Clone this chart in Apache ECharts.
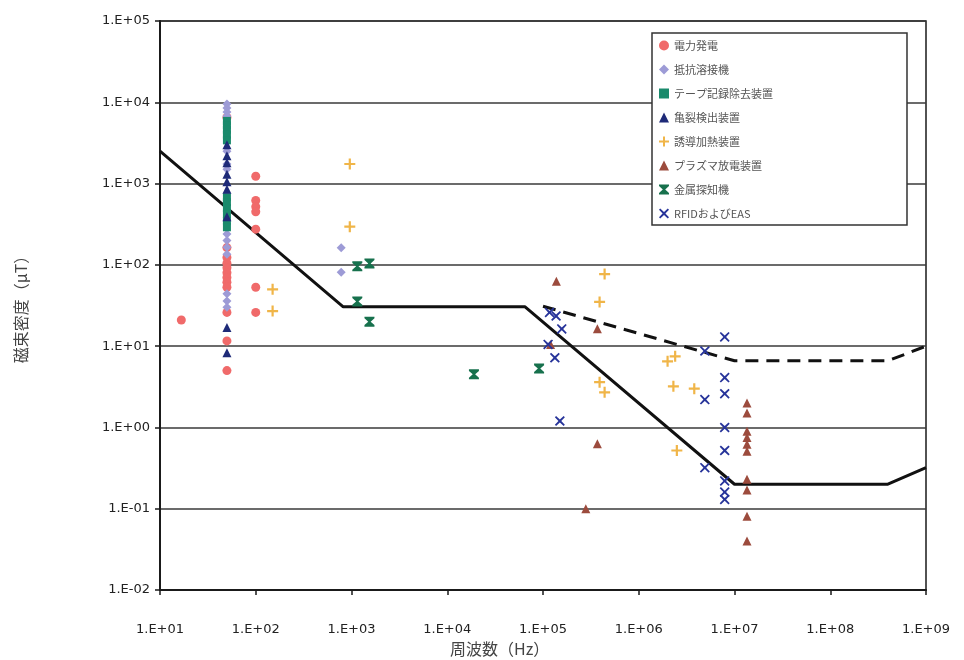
<!DOCTYPE html>
<html>
<head>
<meta charset="utf-8">
<style>html,body{margin:0;padding:0;background:#fff}#c{width:964px;height:660px}</style>
<script src="https://cdn.jsdelivr.net/npm/echarts@6/dist/echarts.min.js"></script>
</head>
<body>
<div id="c"></div>
<script>
// tick labels (by exponent)
const yTickLabels = ['1.E-02','1.E-01','1.E+00','1.E+01','1.E+02','1.E+03','1.E+04','1.E+05'];
const xTickLabels = ['1.E+01','1.E+02','1.E+03','1.E+04','1.E+05','1.E+06','1.E+07','1.E+08','1.E+09'];

const seriesNames = ['電力発電','抵抗溶接機','テープ記録除去装置','亀裂検出装置','誘導加熱装置','プラズマ放電装置','金属探知機','RFIDおよびEAS'];

// [frequency Hz, magnetic flux density µT]
const powerGen = [[16.7,21],[50,6500],[50,163],[50,123],[50,105],[50,92],[50,80],[50,70],[50,61],[50,53],[50,26],[50,11.6],[50,5],
  [100,1230],[100,620],[100,520],[100,450],[100,275],[100,53],[100,26]];
const resistWeld = [[50,9500],[50,8500],[50,7600],[50,6800],[50,2500],[50,1740],[50,1500],[50,240],[50,200],[50,165],[50,135],[50,44],[50,36],[50,30],
  [780,162],[780,81]];
const tapeErase = [[50,5900],[50,5200],[50,4600],[50,4000],[50,3400],[50,680],[50,590],[50,500],[50,420],[50,350],[50,290]];
const crackDetect = [[50,3000],[50,2200],[50,1800],[50,1300],[50,1050],[50,850],[50,390],[50,17],[50,8.3]];
const inductionHeat = [[150,50],[150,27],[960,1740],[960,295],[4.4e5,77],[3.9e5,35],[3.9e5,3.6],[4.4e5,2.7],
  [2.0e6,6.5],[2.4e6,7.5],[2.3e6,3.2],[3.8e6,3.0],[2.5e6,0.52]];
const plasma = [[1.38e5,63],[1.2e5,10.5],[3.7e5,16.4],[3.7e5,0.63],[2.8e5,0.1],
  [1.35e7,2.0],[1.35e7,1.5],[1.35e7,0.9],[1.35e7,0.75],[1.35e7,0.62],[1.35e7,0.51],[1.35e7,0.23],[1.35e7,0.17],[1.35e7,0.081],[1.35e7,0.04]];
const metalDetect = [[1150,96],[1540,104],[1150,35.5],[1540,20],[19000,4.5],[91000,5.3]];
const rfidEas = [[1.17e5,26],[1.37e5,23.5],[1.57e5,16.3],[1.13e5,10.5],[1.33e5,7.2],[1.5e5,1.2],
  [4.9e6,8.7],[7.9e6,13],[7.9e6,4.1],[7.9e6,2.6],[4.9e6,2.2],[7.9e6,1.0],[7.9e6,0.52],[4.9e6,0.32],[7.9e6,0.22],[7.9e6,0.16],[7.9e6,0.13]];

// reference level lines
const limitSolid = [[10,2500],[820,30.5],[65000,30.5],[1e7,0.2],[4e8,0.2],[1e9,0.32]];
const limitDashed = [[1e5,31],[1e7,6.6],[4e8,6.6],[1e9,10]];

const PLUS = 'path://M4,0H6V4H10V6H6V10H4V6H0V4H4Z';
const HOURGLASS = 'path://M0,0H10V1.6L6.2,5L10,8.4V10H0V8.4L3.8,5L0,1.6Z';
const CROSS = 'path://M1.2,0L5,3.6L8.8,0L10,1.2L6.4,5L10,8.8L8.8,10L5,6.4L1.2,10L0,8.8L3.6,5L0,1.2Z';

const styles = [
  {sym:'circle', size:9, color:'#f06a6a'},
  {sym:'diamond', size:9, color:'#9d9bd6'},
  {sym:'rect', size:8, color:'#1a8a6c'},
  {sym:'triangle', size:9, color:'#1e2a78'},
  {sym:PLUS, size:11, color:'#f0b548'},
  {sym:'triangle', size:9, color:'#9c4b3d'},
  {sym:HOURGLASS, size:10, color:'#17714d'},
  {sym:CROSS, size:10, color:'#27349a'}
];
const dataSets = [powerGen, resistWeld, tapeErase, crackDetect, inductionHeat, plasma, metalDetect, rfidEas];

const expOf = v => Math.round(Math.log10(v));
const font = 'DejaVu Sans';
const cjk = '"Noto Sans CJK JP"';

const series = [
  {type:'line', data:limitSolid, symbol:'none', lineStyle:{color:'#111', width:3}, z:1, silent:true},
  {type:'line', data:limitDashed, symbol:'none', lineStyle:{color:'#111', width:3, type:[13,8]}, z:1, silent:true}
];
dataSets.forEach((d,i)=>{
  series.push({type:'scatter', name:seriesNames[i], data:d, symbol:styles[i].sym, symbolSize:styles[i].size,
    itemStyle:{color:styles[i].color, opacity:1}, z:2+i});
});

const chart = echarts.init(document.getElementById('c'), null, {renderer:'canvas'});
chart.setOption({
  animation:false,
  backgroundColor:'#ffffff',
  grid:{left:160, right:38, top:21, bottom:70, show:true, borderColor:'#1a1a1a', borderWidth:1.5, backgroundColor:'transparent'},
  title:{text:'周波数（Hz）', left:445, top:636, textStyle:{fontFamily:cjk, fontSize:16, fontWeight:'normal', color:'#444'}},
  legend:{
    data:seriesNames, orient:'vertical', left:652, top:33,
    padding:[7,134,6,7], itemGap:13, itemWidth:10, itemHeight:10,
    borderColor:'#333', borderWidth:1.5, backgroundColor:'#fff',
    textStyle:{fontFamily:cjk, fontSize:11, color:'#555'}
  },
  xAxis:{
    type:'log', logBase:10, min:10, max:1e9, splitNumber:8,
    axisLine:{show:true, lineStyle:{color:'#1a1a1a', width:2}},
    axisTick:{show:true, inside:false, length:5, lineStyle:{color:'#1a1a1a', width:1.5}},
    axisLabel:{fontFamily:font, fontSize:13, color:'#222', margin:33, formatter:v=>xTickLabels[expOf(v)-1]},
    splitLine:{show:false}, minorTick:{show:false}
  },
  yAxis:{
    type:'log', logBase:10, min:0.01, max:1e5, splitNumber:7,
    name:'磁束密度（μT）', nameLocation:'middle', nameGap:131,
    nameTextStyle:{fontFamily:cjk, fontSize:16, color:'#444'},
    axisLine:{show:true, lineStyle:{color:'#1a1a1a', width:2}},
    axisTick:{show:true, inside:false, length:5, lineStyle:{color:'#1a1a1a', width:1.5}},
    axisLabel:{fontFamily:font, fontSize:13, color:'#222', margin:10, formatter:v=>yTickLabels[expOf(v)+2]},
    splitLine:{show:true, lineStyle:{color:'#3a3a3a', width:1.5}}
  },
  series:series
});
</script>
</body>
</html>
